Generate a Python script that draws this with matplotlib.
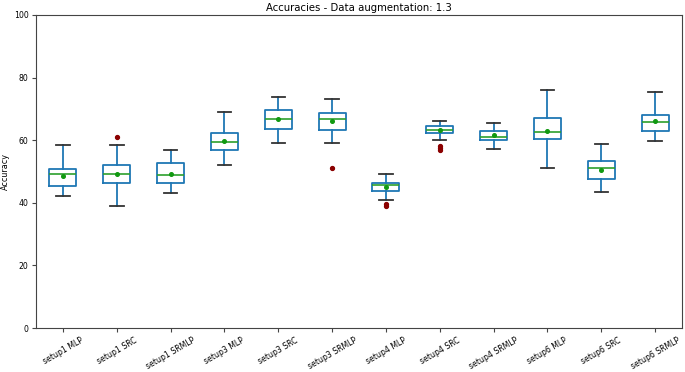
import matplotlib
matplotlib.use("Agg")
import matplotlib.pyplot as plt

labels = ["setup1 MLP", "setup1 SRC", "setup1 SRMLP", "setup3 MLP", "setup3 SRC",
          "setup3 SRMLP", "setup4 MLP", "setup4 SRC", "setup4 SRMLP", "setup6 MLP",
          "setup6 SRC", "setup6 SRMLP"]
whislo = [42.3, 39.0, 43.0, 52.1, 59.2, 59.2, 40.9, 60.1, 57.1, 51.0, 43.4, 59.6]
q1 = [45.4, 46.2, 46.4, 56.9, 63.6, 63.3, 43.8, 62.4, 59.9, 60.3, 47.7, 62.9]
medians = [49.1, 49.1, 48.8, 59.3, 66.7, 66.7, 45.6, 63.1, 61.0, 62.5, 51.0, 65.7]
q3 = [50.8, 52.0, 52.8, 62.3, 69.6, 68.7, 46.4, 64.6, 63.0, 67.0, 53.3, 68.1]
whishi = [58.5, 58.5, 56.9, 68.9, 73.9, 73.1, 49.3, 66.1, 65.5, 76.1, 58.7, 75.3]
means = [48.6, 49.3, 49.2, 59.8, 66.7, 66.0, 45.0, 63.2, 61.5, 62.9, 50.5, 66.0]
fliers = [[], [60.9], [], [], [], [51.0], [39.5, 39.0], [58.0, 57.4, 56.9], [], [], [], []]

stats = []
for i, lab in enumerate(labels):
    stats.append(dict(label=lab, whislo=whislo[i], q1=q1[i], med=medians[i], q3=q3[i],
                      whishi=whishi[i], mean=means[i], fliers=fliers[i]))

fig = plt.figure(figsize=(6.85, 3.72), dpi=100)
ax = fig.add_axes([0.0526, 0.118, 0.943, 0.842])

blue = "#1f77b4"
ax.bxp(stats, widths=0.5, showmeans=True,
       boxprops=dict(color=blue, linewidth=1.3),
       whiskerprops=dict(color=blue, linewidth=1.3),
       capprops=dict(color="#333333", linewidth=1.3),
       medianprops=dict(color="#2ca02c", linewidth=1.2),
       meanprops=dict(marker="o", markersize=2.6, markerfacecolor="#119911",
                      markeredgecolor="#119911"),
       flierprops=dict(marker="o", markersize=2.8, markerfacecolor="#8b0000",
                       markeredgecolor="#8b0000"))

for s in ax.spines.values():
    s.set_color("#444444")

ax.set_ylim(0, 100)
ax.set_xlim(0.5, 12.5)
ax.set_ylabel("Accuracy", fontsize=5.8, labelpad=3)
ax.set_title("Accuracies - Data augmentation: 1.3", fontsize=7.3, pad=3)
ax.tick_params(axis="both", labelsize=5.6, length=3, pad=2.5, color="#444444")
plt.setp(ax.get_xticklabels(), rotation=30, ha="center")

fig.savefig("out.png", dpi=100)
